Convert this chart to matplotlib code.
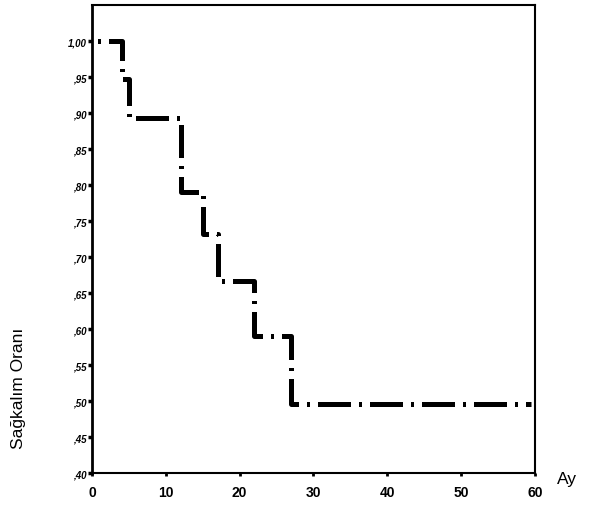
import numpy as np
import matplotlib.pyplot as plt

# ---------------- Kaplan-Meier step values ----------------
months = [0, 4, 5, 12, 15, 17, 22, 27, 59.5]
survival = [1.00, 0.947, 0.893, 0.790, 0.732, 0.667, 0.590, 0.496, 0.496]

x_ticks = [0, 10, 20, 30, 40, 50, 60]
y_ticks = [0.40, 0.45, 0.50, 0.55, 0.60, 0.65, 0.70, 0.75, 0.80, 0.85, 0.90, 0.95, 1.00]
y_tick_labels = [",40", ",45", ",50", ",55", ",60", ",65", ",70", ",75", ",80", ",85", ",90", ",95", "1,00"]

plt.rcParams['font.family'] = ['Liberation Sans', 'DejaVu Sans']

fig = plt.figure(figsize=(5.92, 5.06), dpi=100)
ax = fig.add_axes([0.1554, 0.0632, 0.7483, 0.9248])

# dash-dot line, offset so the curve opens with a gap like the original
ax.plot(months, survival, drawstyle='steps-post', color='black',
        linewidth=3.6, linestyle=(7.1, (6.6, 1.6, 0.6, 1.6)),
        dash_capstyle='butt', solid_joinstyle='miter')

ax.set_xlim(0, 60)
ax.set_ylim(0.40, 1.05)
ax.set_xticks(x_ticks)
ax.set_xticklabels([str(t) for t in x_ticks], fontsize=10, fontweight='bold')
ax.set_yticks(y_ticks)
ax.set_yticklabels(y_tick_labels, fontsize=7, fontweight='bold', fontstyle='italic')

ax.tick_params(axis='x', direction='out', length=2.5, width=2, pad=6)
ax.tick_params(axis='y', direction='out', length=3, width=2.5, pad=1)

for side in ['left', 'bottom', 'top', 'right']:
    ax.spines[side].set_linewidth(1.5)
ax.spines['left'].set_linewidth(2)

fig.text(0.032, 0.233, "Sağkalım Oranı", rotation=90, fontsize=12.5,
         ha='center', va='center')
fig.text(0.958, 0.052, "Ay", fontsize=12.5, ha='center', va='center')

fig.savefig("out.png", dpi=100)
